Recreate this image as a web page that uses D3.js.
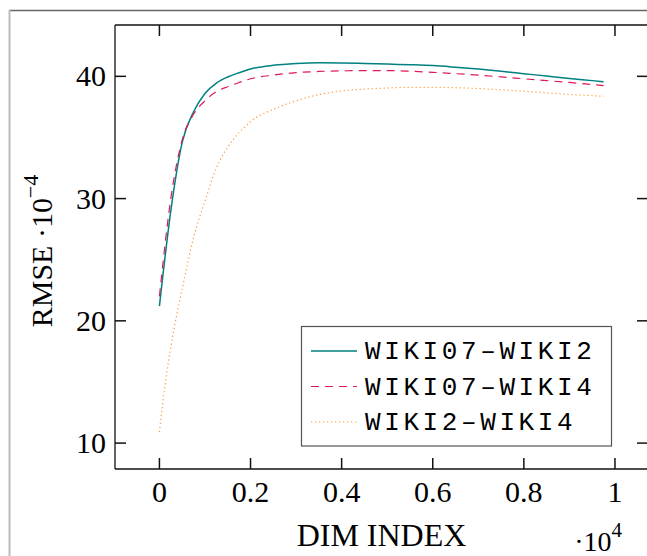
<!doctype html>
<html>
<head>
<meta charset="utf-8">
<style>
  body { margin: 0; background: #fff; }
  svg { display: block; }
</style>
</head>
<body>
  <svg id="chart"></svg>
<script src="https://d3js.org/d3.v7.min.js"></script>
<script>
// dim index (x 10^4)
const dimIndex = [0, 0.025, 0.05, 0.075, 0.1, 0.125, 0.15, 0.175, 0.2, 0.25, 0.3, 0.35, 0.4, 0.45, 0.5,
  0.55, 0.6, 0.65, 0.7, 0.75, 0.8, 0.85, 0.9, 0.95, 0.975];
const wiki07Wiki2 = [21.2, 29.0, 34.6, 37.1, 38.6, 39.45, 39.95, 40.3, 40.6, 40.9, 41.05, 41.12, 41.1, 41.05, 41.0,
  40.95, 40.88, 40.75, 40.6, 40.42, 40.22, 40.02, 39.82, 39.65, 39.56];
const wiki07Wiki4 = [22.0, 30.0, 34.8, 36.9, 38.0, 38.75, 39.15, 39.5, 39.8, 40.1, 40.3, 40.4, 40.45, 40.47, 40.47,
  40.42, 40.33, 40.22, 40.1, 39.95, 39.8, 39.65, 39.5, 39.33, 39.24];
// wiki2-wiki4 has a few extra points in the steep start
const dimIndex3 = [0, 0.0125, 0.025, 0.0375, 0.05, 0.075, 0.1, 0.125, 0.15, 0.175, 0.2, 0.25, 0.3, 0.35, 0.4, 0.45, 0.5,
  0.55, 0.6, 0.65, 0.7, 0.75, 0.8, 0.85, 0.9, 0.95, 0.975];
const wiki2Wiki4 = [10.9, 14.8, 17.8, 20.4, 22.6, 26.8, 29.8, 32.5, 34.2, 35.4, 36.3, 37.3, 38.0, 38.5, 38.8, 38.95, 39.05,
  39.1, 39.1, 39.07, 39.0, 38.9, 38.77, 38.65, 38.52, 38.42, 38.36];

const seriesNames = ["WIKI07\u2013WIKI2", "WIKI07\u2013WIKI4", "WIKI2\u2013WIKI4"];
const xTicks = [0, 0.2, 0.4, 0.6, 0.8, 1];
const yTicks = [10, 20, 30, 40];

const width = 647, height = 556;
const margin = { left: 115, top: 25, right: 648, bottom: 469 };

const svg = d3.select("#chart").attr("width", width).attr("height", height);

// outer frame
svg.append("line").attr("x1", 9).attr("x2", width).attr("y1", 10.5).attr("y2", 10.5)
  .attr("stroke", "#666").attr("stroke-width", 1.5);
svg.append("line").attr("x1", 9.5).attr("x2", 9.5).attr("y1", 10).attr("y2", height)
  .attr("stroke", "#bbb").attr("stroke-width", 2);

const x = d3.scaleLinear().domain([-0.0975, 1.0725]).range([margin.left, margin.right]);
const y = d3.scaleLinear().domain([7.88, 44.2]).range([margin.bottom, margin.top]);

const serif = "'Liberation Serif', 'DejaVu Serif', serif";
const mono = "'Liberation Mono', 'DejaVu Sans Mono', monospace";

// axis box: right side lies just past the canvas edge
const box = svg.append("g").attr("stroke", "#111").attr("stroke-width", 1.3);
box.append("line").attr("x1", margin.left).attr("x2", width).attr("y1", margin.top).attr("y2", margin.top);
box.append("line").attr("x1", margin.left).attr("x2", width).attr("y1", margin.bottom).attr("y2", margin.bottom);
box.append("line").attr("x1", margin.left).attr("x2", margin.left).attr("y1", margin.top).attr("y2", margin.bottom);

const tickLen = 11;
const ticks = svg.append("g").attr("stroke", "#111").attr("stroke-width", 1.5);
xTicks.forEach(function (t) {
  ticks.append("line").attr("x1", x(t)).attr("x2", x(t)).attr("y1", margin.bottom).attr("y2", margin.bottom - tickLen);
  ticks.append("line").attr("x1", x(t)).attr("x2", x(t)).attr("y1", margin.top).attr("y2", margin.top + tickLen);
});
yTicks.forEach(function (t) {
  ticks.append("line").attr("y1", y(t)).attr("y2", y(t)).attr("x1", margin.left).attr("x2", margin.left + tickLen);
  ticks.append("line").attr("y1", y(t)).attr("y2", y(t)).attr("x1", margin.right).attr("x2", margin.right - tickLen);
});

svg.append("g").selectAll("text").data(xTicks).enter().append("text")
  .attr("x", d => x(d)).attr("y", 502)
  .attr("text-anchor", "middle")
  .attr("font-family", serif).attr("font-size", 30)
  .text(d => d3.format("")(d));

svg.append("g").selectAll("text").data(yTicks).enter().append("text")
  .attr("x", 106).attr("y", d => y(d) + 10)
  .attr("text-anchor", "end")
  .attr("font-family", serif).attr("font-size", 30)
  .text(d => d);

// axis labels
svg.append("text")
  .attr("x", (margin.left + margin.right) / 2).attr("y", 546)
  .attr("text-anchor", "middle")
  .attr("font-family", serif).attr("font-size", 32)
  .text("DIM INDEX");

const xs = svg.append("text")
  .attr("x", 622).attr("y", 551)
  .attr("text-anchor", "end")
  .attr("font-family", serif).attr("font-size", 28);
xs.append("tspan").text("\u00b710");
xs.append("tspan").attr("dy", -14).attr("font-size", 21).text("4");

const yl = svg.append("text")
  .attr("transform", "translate(52," + ((margin.top + margin.bottom) / 2 + 4) + ") rotate(-90)")
  .attr("text-anchor", "middle")
  .attr("font-family", serif).attr("font-size", 30);
yl.append("tspan").text("RMSE \u00b710");
yl.append("tspan").attr("dy", -14).attr("font-size", 22).text("\u22124");

// lines
const series = [
  { name: seriesNames[0], xs: dimIndex, ys: wiki07Wiki2, color: "#008080", width: 1.5, dash: null },
  { name: seriesNames[1], xs: dimIndex, ys: wiki07Wiki4, color: "#e0195a", width: 1.2, dash: "8,6" },
  { name: seriesNames[2], xs: dimIndex3, ys: wiki2Wiki4, color: "#ff9933", width: 1.2, dash: "1.2,2.8" }
];

const line = d3.line()
  .x(d => x(d[0]))
  .y(d => y(d[1]))
  .curve(d3.curveMonotoneX);

svg.append("g").selectAll("path").data(series).enter().append("path")
  .attr("d", s => line(s.xs.map((v, i) => [v, s.ys[i]])))
  .attr("fill", "none")
  .attr("stroke", s => s.color)
  .attr("stroke-width", s => s.width)
  .attr("stroke-dasharray", s => s.dash);

// legend
const legend = svg.append("g");
legend.append("rect")
  .attr("x", 301.5).attr("y", 326.5).attr("width", 310).attr("height", 119.5)
  .attr("fill", "#fff").attr("stroke", "#555").attr("stroke-width", 1.2);

series.forEach(function (s, i) {
  const cy = 351 + i * 35.5;
  legend.append("line")
    .attr("x1", 311).attr("x2", 357).attr("y1", cy).attr("y2", cy)
    .attr("stroke", s.color).attr("stroke-width", s.width)
    .attr("stroke-dasharray", s.dash);
  legend.append("text")
    .attr("x", 365).attr("y", cy + 8)
    .attr("font-family", mono).attr("font-size", 26)
    .attr("letter-spacing", 3.6)
    .text(s.name);
});
</script>
</body>
</html>
